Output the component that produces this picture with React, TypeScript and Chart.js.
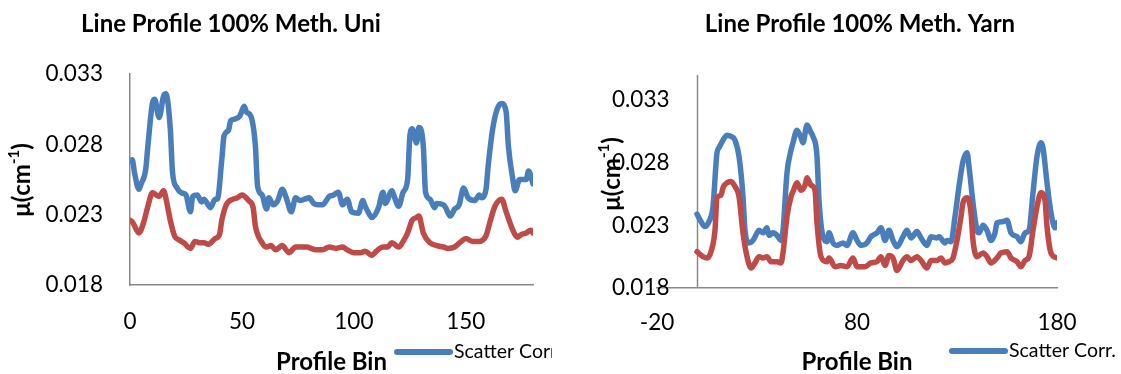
import React, { useEffect, useRef } from 'react';
import { Chart, registerables } from 'chart.js';

Chart.register(...registerables);

// ---------- data ----------
const uniScatterBins = [0, 1, 2, 4, 5, 7, 8, 10, 11, 13, 15, 16, 18, 19, 21, 23, 25, 27, 28, 30, 32, 33, 36, 38, 39, 41, 42, 44, 45, 47, 49, 51, 52, 54, 56, 57, 59, 61, 62, 64, 66, 68, 70, 72, 74, 76, 78, 80, 82, 84, 86, 89, 91, 93, 95, 97, 99, 102, 104, 105, 107, 108, 111, 113, 114, 117, 118, 120, 122, 124, 125, 126, 128, 129, 131, 132, 134, 136, 137, 140, 141, 143, 145, 147, 149, 151, 154, 156, 157, 159, 160, 162, 164, 166, 168, 169, 171, 172, 174, 175, 177, 178, 180];
const uniScatterVals = [0.0268, 0.0269, 0.026, 0.0248, 0.0252, 0.0262, 0.0279, 0.0309, 0.0312, 0.0299, 0.03145, 0.0316, 0.0291, 0.026, 0.0249, 0.02455, 0.0244, 0.0232, 0.0243, 0.0244, 0.0239, 0.0241, 0.0235, 0.0241, 0.0241, 0.0269, 0.0286, 0.029, 0.0297, 0.0298, 0.03, 0.0307, 0.0303, 0.03, 0.0279, 0.025, 0.0244, 0.0234, 0.0242, 0.0237, 0.024, 0.0248, 0.0241, 0.0232, 0.0242, 0.024, 0.0241, 0.0242, 0.0238, 0.0237, 0.0237, 0.0243, 0.0244, 0.0246, 0.0237, 0.0241, 0.0232, 0.0231, 0.024, 0.0236, 0.023, 0.0228, 0.0235, 0.0246, 0.0238, 0.0247, 0.0243, 0.0236, 0.0246, 0.0255, 0.0286, 0.0291, 0.0281, 0.0292, 0.0279, 0.0246, 0.0241, 0.0235, 0.0238, 0.0237, 0.0235, 0.0229, 0.0234, 0.0237, 0.0249, 0.0242, 0.024, 0.0244, 0.0242, 0.0248, 0.0265, 0.0291, 0.0305, 0.0309, 0.0303, 0.0279, 0.0255, 0.0247, 0.0255, 0.0255, 0.0255, 0.0261, 0.0252];

const uniRawBins = [0, 1, 4, 6, 8, 10, 13, 15, 16, 18, 20, 22, 24, 27, 29, 31, 33, 35, 38, 40, 41, 43, 46, 48, 50, 53, 55, 56, 59, 61, 63, 65, 68, 71, 74, 79, 83, 86, 89, 92, 95, 97, 100, 103, 105, 108, 110, 113, 115, 117, 120, 122, 124, 126, 128, 129, 131, 134, 137, 140, 142, 145, 148, 150, 153, 156, 159, 161, 163, 166, 168, 171, 173, 175, 177, 179, 180];
const uniRawVals = [0.0226, 0.0225, 0.0217, 0.0224, 0.0236, 0.02455, 0.0243, 0.0247, 0.0242, 0.0226, 0.02145, 0.0212, 0.021, 0.0206, 0.0211, 0.021, 0.021, 0.0209, 0.0213, 0.0216, 0.0226, 0.0237, 0.0241, 0.0242, 0.0244, 0.024, 0.0235, 0.0222, 0.021, 0.0207, 0.0208, 0.0205, 0.0208, 0.0203, 0.0207, 0.0207, 0.0205, 0.0205, 0.0207, 0.0206, 0.0207, 0.0205, 0.0203, 0.0203, 0.0204, 0.0201, 0.0204, 0.0207, 0.0207, 0.021, 0.0207, 0.0211, 0.0217, 0.0226, 0.0228, 0.0229, 0.0217, 0.021, 0.0208, 0.0207, 0.0206, 0.0207, 0.0211, 0.0213, 0.0211, 0.0211, 0.0215, 0.0226, 0.0236, 0.0241, 0.0232, 0.0219, 0.0214, 0.0216, 0.0217, 0.0219, 0.0217];

const yarnScatterBins = [0, 2, 4, 6, 8, 10, 11, 13, 15, 17, 19, 21, 23, 24, 26, 28, 30, 31, 33, 35, 36, 38, 40, 42, 43, 45, 47, 48, 50, 52, 53, 55, 57, 58, 60, 61, 63, 65, 66, 68, 70, 73, 75, 78, 80, 82, 85, 87, 90, 92, 94, 96, 98, 100, 103, 105, 107, 110, 112, 115, 117, 120, 121, 124, 125, 127, 129, 131, 133, 135, 136, 138, 140, 141, 143, 145, 147, 149, 150, 153, 155, 157, 160, 162, 164, 166, 168, 170, 172, 173, 175, 177, 179, 180];
const yarnScatterVals = [0.0239, 0.0233, 0.0229, 0.0233, 0.0245, 0.0288, 0.0292, 0.0298, 0.0302, 0.0301, 0.0298, 0.0285, 0.0253, 0.0226, 0.0216, 0.0218, 0.0224, 0.0226, 0.0224, 0.0228, 0.0222, 0.0224, 0.0222, 0.0218, 0.0226, 0.0272, 0.029, 0.0296, 0.0306, 0.03, 0.0296, 0.031, 0.0304, 0.0301, 0.0285, 0.025, 0.0221, 0.0217, 0.0224, 0.0216, 0.0214, 0.0216, 0.0214, 0.0224, 0.0218, 0.0214, 0.0216, 0.0221, 0.0224, 0.0228, 0.0218, 0.0226, 0.0218, 0.0213, 0.0221, 0.0226, 0.022, 0.0225, 0.022, 0.0214, 0.0221, 0.022, 0.0221, 0.0216, 0.0218, 0.0217, 0.0237, 0.0261, 0.0281, 0.0288, 0.0277, 0.0248, 0.0226, 0.0224, 0.023, 0.0226, 0.0218, 0.0224, 0.0232, 0.0233, 0.0234, 0.0224, 0.0221, 0.0217, 0.0224, 0.0226, 0.0256, 0.0285, 0.0296, 0.0292, 0.0264, 0.024, 0.0228, 0.0232];

const yarnRawBins = [0, 3, 5, 7, 9, 10, 12, 13, 15, 17, 19, 21, 23, 25, 27, 29, 31, 33, 35, 37, 40, 42, 43, 45, 47, 48, 50, 52, 54, 55, 57, 59, 60, 62, 65, 66, 69, 72, 75, 78, 80, 84, 87, 90, 92, 94, 96, 98, 100, 103, 105, 107, 110, 112, 115, 117, 120, 122, 124, 126, 128, 130, 132, 133, 135, 137, 138, 140, 143, 145, 147, 150, 152, 155, 157, 160, 162, 164, 166, 168, 170, 172, 174, 175, 177, 180];
const yarnRawVals = [0.0209, 0.0205, 0.0204, 0.0209, 0.0226, 0.0252, 0.0254, 0.026, 0.0264, 0.0265, 0.0261, 0.0253, 0.0224, 0.0205, 0.0196, 0.02, 0.0205, 0.0204, 0.0205, 0.0201, 0.0201, 0.02, 0.0208, 0.0237, 0.0253, 0.0257, 0.0264, 0.0258, 0.0262, 0.0268, 0.0262, 0.0258, 0.0232, 0.0205, 0.0201, 0.0204, 0.0197, 0.0198, 0.0197, 0.0204, 0.0197, 0.0197, 0.02, 0.0201, 0.0205, 0.0198, 0.0206, 0.0204, 0.0194, 0.0202, 0.0205, 0.0202, 0.0205, 0.0202, 0.0196, 0.0202, 0.0202, 0.0204, 0.02, 0.0201, 0.0204, 0.0218, 0.0237, 0.0248, 0.0252, 0.024, 0.0218, 0.0205, 0.0208, 0.0205, 0.02, 0.0204, 0.0208, 0.0209, 0.0204, 0.0201, 0.0197, 0.0202, 0.0205, 0.0226, 0.0245, 0.0256, 0.025, 0.0229, 0.0208, 0.0204];

const uniYTicks = [0.018, 0.023, 0.028, 0.033];
const uniXTicks = [0, 50, 100, 150];
const yarnYTicks = [0.018, 0.023, 0.028, 0.033];
const yarnXTicks = [-20, 80, 180];

const uniTitle = 'Line Profile 100% Meth. Uni';
const yarnTitle = 'Line Profile 100% Meth. Yarn';
const xAxisTitle = 'Profile Bin';
const yAxisTitleMain = 'μ(cm';
const yAxisTitleSup = '-1';
const yAxisTitleEnd = ')';
const seriesNames = ['Scatter Corr.', 'No Corr.'];

// ---------- styles ----------
const BLUE = '#4a7ebb';
const RED = '#be4b48';
const AXIS = '#898989';
const FONT = 'Lato';
const TICK_SIZE = 22.5;

const decorPlugin = {
  id: 'decor',
  beforeDatasetsDraw(chart: any, _a: any, opts: any) {
    if (!opts.axisAtZero) return;
    const { ctx, chartArea } = chart;
    const x = Math.round(chart.scales.x.getPixelForValue(0)) + 0.5;
    ctx.save();
    ctx.strokeStyle = AXIS;
    ctx.lineWidth = 1.5;
    ctx.beginPath();
    ctx.moveTo(x, chartArea.top);
    ctx.lineTo(x, chartArea.bottom);
    ctx.stroke();
    ctx.restore();
  },
  afterDraw(chart: any, _a: any, opts: any) {
    const { ctx, chartArea } = chart;
    ctx.save();
    ctx.fillStyle = '#000';
    // chart title
    ctx.font = `bold 24px ${FONT}`;
    ctx.textAlign = 'center';
    ctx.textBaseline = 'middle';
    ctx.fillText(opts.title, opts.titleX, opts.titleY);
    // x axis title
    ctx.fillText(xAxisTitle, (chartArea.left + chartArea.right) / 2, opts.xTitleY);
    // y axis title (rotated, with superscript)
    ctx.save();
    ctx.translate(opts.yTitleX, opts.yTitleY);
    ctx.rotate(-Math.PI / 2);
    const mainFont = `bold 24px ${FONT}`;
    const supFont = `bold 15px ${FONT}`;
    ctx.font = mainFont;
    const w1 = ctx.measureText(yAxisTitleMain).width;
    const w3 = ctx.measureText(yAxisTitleEnd).width;
    ctx.font = supFont;
    const w2 = ctx.measureText(yAxisTitleSup).width;
    let sx = -(w1 + w2 + w3) / 2;
    ctx.textAlign = 'left';
    ctx.font = mainFont;
    ctx.fillText(yAxisTitleMain, sx, 0);
    sx += w1;
    ctx.font = supFont;
    ctx.fillText(yAxisTitleSup, sx, -8);
    sx += w2;
    ctx.font = mainFont;
    ctx.fillText(yAxisTitleEnd, sx, 0);
    ctx.restore();
    // legend (first series)
    ctx.strokeStyle = BLUE;
    ctx.lineWidth = 6;
    ctx.lineCap = 'round';
    ctx.beginPath();
    ctx.moveTo(opts.legendX1, opts.legendY);
    ctx.lineTo(opts.legendX2, opts.legendY);
    ctx.stroke();
    ctx.font = `19.5px ${FONT}`;
    ctx.textAlign = 'left';
    ctx.fillText(seriesNames[0], opts.legendX2 + 4, opts.legendY);
    ctx.restore();
  },
};

function toPoints(bins: number[], vals: number[]) {
  return bins.map((b, i) => ({ x: b, y: vals[i] }));
}

function makeConfig(spec: any) {
  const lineDs = (label: string, data: any, color: string) => ({
    label,
    data,
    borderColor: color,
    backgroundColor: color,
    borderWidth: 5.5,
    pointRadius: 0,
    fill: false,
    cubicInterpolationMode: 'monotone',
    borderJoinStyle: 'round',
    borderCapStyle: 'round',
  });
  return {
    type: 'line',
    data: {
      datasets: [
        lineDs(seriesNames[1], spec.red, RED),
        lineDs(seriesNames[0], spec.blue, BLUE),
      ],
    },
    options: {
      animation: false,
      responsive: false,
      devicePixelRatio: 1,
      layout: { padding: spec.padding },
      plugins: {
        legend: { display: false },
        tooltip: { enabled: false },
        title: { display: false },
        decor: spec.decor,
      },
      scales: {
        x: {
          type: 'linear',
          min: spec.xMin,
          max: spec.xMax,
          afterBuildTicks: (s: any) => {
            s.ticks = spec.xTicks.map((v: number) => ({ value: v }));
          },
          afterFit: (s: any) => {
            s.height = spec.xHeight;
          },
          grid: { display: false, drawTicks: false },
          border: { display: true, color: AXIS, width: 1.5 },
          ticks: {
            padding: spec.xTickPad,
            color: '#000',
            font: { family: FONT, size: TICK_SIZE, lineHeight: 1.2 },
            maxRotation: 0,
            autoSkip: false,
            callback: (v: any) => String(v),
          },
        },
        y: {
          type: 'linear',
          min: spec.yMin,
          max: spec.yMax,
          afterBuildTicks: (s: any) => {
            s.ticks = spec.yTicks.map((v: number) => ({ value: v }));
          },
          afterFit: (s: any) => {
            s.width = spec.yWidth;
          },
          grid: { display: false, drawTicks: false },
          border: { display: spec.yBorder, color: AXIS, width: 1.5 },
          ticks: {
            mirror: spec.yMirror,
            padding: spec.yTickPad,
            color: '#000',
            font: { family: FONT, size: TICK_SIZE, lineHeight: 1.2 },
            autoSkip: false,
            callback: (v: any) => Number(v).toFixed(3),
          },
        },
      },
    },
    plugins: [decorPlugin],
  };
}

const uniSpec = {
  red: toPoints(uniRawBins, uniRawVals),
  blue: toPoints(uniScatterBins, uniScatterVals),
  padding: { top: 74, right: 19, left: 0, bottom: 0 },
  xMin: 0,
  xMax: 180,
  yMin: 0.018,
  yMax: 0.033,
  xTicks: uniXTicks,
  yTicks: uniYTicks,
  xHeight: 89,
  yWidth: 130,
  xTickPad: 23,
  yTickPad: 27,
  yMirror: false,
  yBorder: true,
  decor: {
    title: uniTitle,
    titleX: 231,
    titleY: 24,
    xTitleY: 362,
    yTitleX: 22,
    yTitleY: 180,
    legendX1: 397,
    legendX2: 450,
    legendY: 352,
    axisAtZero: false,
  },
};

const yarnSpec = {
  red: toPoints(yarnRawBins, yarnRawVals),
  blue: toPoints(yarnScatterBins, yarnScatterVals),
  padding: { top: 75, right: 64, left: 0, bottom: 0 },
  xMin: -20,
  xMax: 180,
  yMin: 0.018,
  yMax: 0.035,
  xTicks: yarnXTicks,
  yTicks: yarnYTicks,
  xHeight: 86,
  yWidth: 97,
  xTickPad: 21,
  yTickPad: -45,
  yMirror: true,
  yBorder: false,
  decor: {
    title: yarnTitle,
    titleX: 300,
    titleY: 24,
    xTitleY: 362,
    yTitleX: 52,
    yTitleY: 174,
    legendX1: 392,
    legendX2: 445,
    legendY: 351,
    axisAtZero: true,
  },
};

function ChartCanvas({ spec, width, left }: { spec: any; width: number; left: number }) {
  const ref = useRef<HTMLCanvasElement | null>(null);
  useEffect(() => {
    if (!ref.current) return;
    const chart = new Chart(ref.current, makeConfig(spec) as any);
    return () => chart.destroy();
  }, [spec]);
  return (
    <canvas
      ref={ref}
      width={width}
      height={374}
      style={{ position: 'absolute', left, top: 0, width, height: 374 }}
    />
  );
}

export default function App() {
  return (
    <div
      style={{
        position: 'absolute',
        left: 0,
        top: 0,
        width: 1121,
        height: 374,
        background: '#ffffff',
        overflow: 'hidden',
      }}
    >
      <ChartCanvas spec={uniSpec} width={552} left={0} />
      <ChartCanvas spec={yarnSpec} width={561} left={560} />
    </div>
  );
}
